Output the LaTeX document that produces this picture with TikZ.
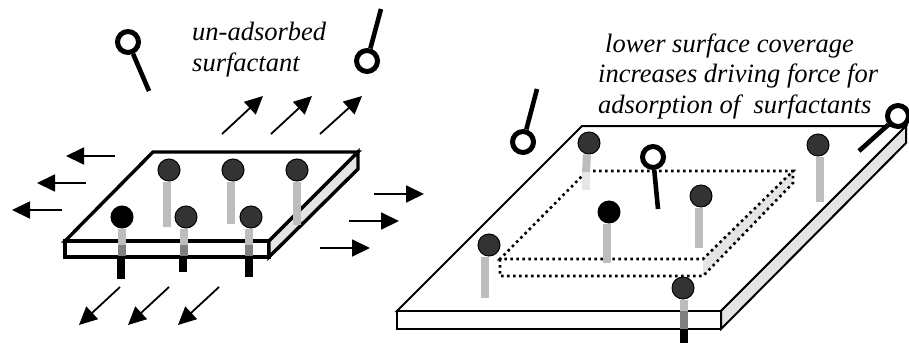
\documentclass[tikz,border=0pt]{standalone}
\usepackage{fontspec}
\setmainfont{Liberation Serif}
\usetikzlibrary{arrows.meta}
\definecolor{headgray}{HTML}{333333}
\definecolor{tailgray}{HTML}{BDBDBD}
\definecolor{tailline}{HTML}{D4D4D4}
\definecolor{tailfade}{HTML}{E6E6E6}
\definecolor{taildark}{HTML}{808080}
\definecolor{sidegray}{HTML}{E4E4E4}
\tikzset{
 head/.style={circle,draw=black,fill=headgray,line width=1pt,minimum size=22pt,inner sep=0pt},
 blackhead/.style={head,fill=black},
 ring/.style={circle,draw=black,fill=white,line width=5pt,minimum size=21pt,inner sep=0pt},
 tail/.style={line width=8pt,tailgray},
 tailthrough/.style={line width=8pt,taildark},
 stub/.style={line width=8pt,black},
 freetail/.style={line width=4.6pt,black},
 flow/.style={line width=1.8pt,-{Triangle[length=18pt,width=17pt]}},
 caption/.style={font=\fontsize{26.5}{26.5}\selectfont\itshape,anchor=base west,inner sep=0pt},
 plateA/.style={line width=3.4pt,line join=miter},
 plateB/.style={line width=2pt,line join=miter},
 dots/.style={line width=2.6pt,dash pattern=on 2.6pt off 3.4pt},
}
\begin{document}
\begin{tikzpicture}[x=1pt,y=-1pt]
\useasboundingbox (0,0) rectangle (909,343);
% left plate
\draw[plateA,fill=white] (153,152) -- (358,152) -- (269,241) -- (65,241) -- cycle;
\draw[plateA,fill=white] (65,241) rectangle (269,257);
\draw[plateA,fill=sidegray] (269,241) -- (358,152) -- (358,169) -- (269,257) -- cycle;
% left heads
\node[head] (a1) at (169,170) {};
\node[head] (a2) at (233,170) {};
\node[head] (a3) at (297,170) {};
\node[blackhead] (a4) at (122,217) {};
\node[head] (a5) at (186,217) {};
\node[head] (a6) at (251,217) {};
\coordinate (a1e) at (167,227);
\coordinate (a2e) at (231,224);
\coordinate (a3e) at (297,225);
\coordinate (a4m) at (122,245);
\coordinate (a4b) at (122,255.5);
\coordinate (a4s) at (121,257);
\coordinate (a4e) at (121,279);
\coordinate (a5m) at (184,245);
\coordinate (a5b) at (184,255.5);
\coordinate (a5s) at (183,257);
\coordinate (a5e) at (183,272);
\coordinate (a6m) at (249,245);
\coordinate (a6b) at (249,255.5);
\coordinate (a6s) at (248.5,257);
\coordinate (a6e) at (248.5,277);
\draw[tail] (a1.south) ++(-2,0) -- (a1e);
\draw[tail] (a2.south) ++(-2,0) -- (a2e);
\draw[tail] (a3.south) -- (a3e);
\draw[tail] (a4.south) -- (a4m);
\draw[tailthrough] (a4m) -- (a4b);
\draw[stub] (a4s) -- (a4e);
\draw[tail] (a5.south) ++(-2,0) -- (a5m);
\draw[tailthrough] (a5m) -- (a5b);
\draw[stub] (a5s) -- (a5e);
\draw[tail] (a6.south) ++(-2,0) -- (a6m);
\draw[tailthrough] (a6m) -- (a6b);
\draw[stub] (a6s) -- (a6e);
% left flow arrows
\foreach \n/\xa/\ya/\xb/\yb in {l1/115/156/66/156,l2/86/183/37/183,l3/62/210/12/210,
  r1/374/194/424/194,r2/349/221/399/221,r3/320/248/370/248,
  b1/120/287/79/325,b2/169/287/128/325,b3/219/287/178/325,
  t1/222/134/263/96,t2/271/134/312/96,t3/320/134/362/96}{
  \coordinate (\n s) at (\xa,\ya);
  \coordinate (\n e) at (\xb,\yb);
  \draw[flow] (\n s) -- (\n e);
}
% free surfactants, left
\coordinate (f1e) at (149,91);
\coordinate (f2e) at (381,9);
\node[ring] (f1) at (128,42) {};
\node[ring] (f2) at (367,61) {};
\draw[freetail] (f1) -- (f1e);
\draw[freetail] (f2) -- (f2e);
% right plate
\draw[plateB,fill=white] (582,126) -- (906,126) -- (721,311) -- (397,311) -- cycle;
\draw[plateB,fill=white] (397,311) rectangle (721,329);
\draw[plateB,fill=sidegray] (721,311) -- (906,126) -- (906,143) -- (721,329) -- cycle;
% dotted hole
\fill[sidegray] (703,259) -- (793,171) -- (793,183) -- (703,276) -- cycle;
\draw[dots] (587,171) -- (793,171) -- (703,259) -- (500,259) -- cycle;
\draw[dots] (500,259) -- (500,276) -- (703,276) -- (793,183) -- (793,171);
% right tails and heads
\node[head] (b1) at (589,143) {};
\node[head] (b2) at (818,145) {};
\node[head] (b3) at (701,196) {};
\node[blackhead] (b4) at (609,212) {};
\node[head] (b5) at (489,245) {};
\node[head] (b6) at (683,288) {};
\coordinate (b1m) at (586,172);
\coordinate (b1e) at (586,190);
\coordinate (b2e) at (820,202);
\coordinate (b3e) at (699,248);
\coordinate (b4e) at (607,263);
\coordinate (b5e) at (485,298);
\coordinate (b6m) at (684,311);
\coordinate (b6b) at (684,329);
\coordinate (b6e) at (684,343);
\draw[tail] (b1.south) ++(-2,0) -- (b1m);
\draw[line width=8pt,tailfade] (b1m) -- (b1e);
\draw[tail] (b2.south) ++(2,0) -- (b2e);
\draw[tail] (b3.south) ++(-2,0) -- (b3e);
\draw[tail] (b4.south) ++(-2,0) -- (b4e);
\draw[tail] (b5.south) ++(-4,0) -- (b5e);
\draw[tail] (b6.south) ++(1,0) -- (b6m);
\draw[tailthrough] (b6m) -- (b6b);
\draw[stub] (b6b) -- (b6e);
% free surfactants, right
\coordinate (g1e) at (537,89);
\coordinate (g2e) at (658,209);
\coordinate (g3e) at (859,151);
\node[ring] (g1) at (523,142) {};
\node[ring] (g2) at (653,157) {};
\node[ring] (g3) at (898,116) {};
\draw[freetail] (g1) -- (g1e);
\draw[freetail] (g2) -- (g2e);
\draw[freetail] (g3) -- (g3e);
% captions
\node[caption] (c1) at (192,40) {un-adsorbed};
\node[caption] (c2) at (192,71) {surfactant};
\node[caption] (c3) at (605,52) {lower surface coverage};
\node[caption] (c4) at (598,82) {increases driving force for};
\node[caption] (c5) at (598,113) {adsorption of\ \ surfactants};
\end{tikzpicture}
\end{document}
